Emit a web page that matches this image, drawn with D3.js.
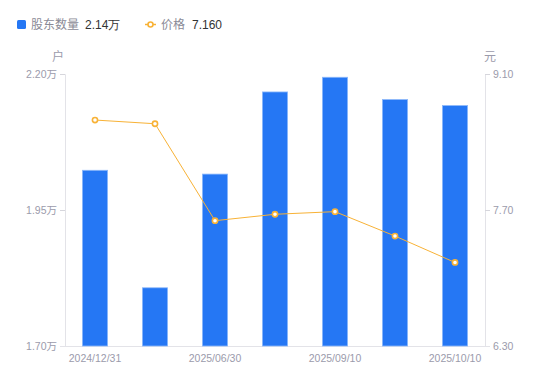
<!DOCTYPE html>
<html><head><meta charset="utf-8">
<script src="https://cdn.jsdelivr.net/npm/d3@7"></script>
<style>
html,body{margin:0;padding:0;background:#fff;}
svg{display:block;font-family:"Noto Sans CJK SC","Noto Sans",sans-serif;}
</style></head>
<body><svg id="c" width="550" height="381"></svg>
<script>
const categories = ["2024/12/31","2025/03/31","2025/06/30","2025/08/20","2025/09/10","2025/09/30","2025/10/10"];
const shownLabels = ["2024/12/31","2025/06/30","2025/09/10","2025/10/10"];
const holders = [2.023, 1.807, 2.016, 2.167, 2.194, 2.153, 2.142];
const prices = [8.626, 8.588, 7.590, 7.656, 7.683, 7.432, 7.160];
const leftTicks = [1.70, 1.95, 2.20];
const rightTicks = [6.30, 7.70, 9.10];
const legendNames = ["股东数量", "价格"];
const legendValues = ["2.14万", "7.160"];

const svg = d3.select("#c");
const L = 65, R = 485, T = 74, B = 346;
const blue = "#2577f4", orange = "#f8b236", grey = "#9b9bab";

const x = d3.scaleBand().domain(categories).range([L, R]).paddingInner(0.58).paddingOuter(0.29);
const yL = d3.scaleLinear().domain([1.70, 2.20]).range([B, T]);
const yR = d3.scaleLinear().domain([6.30, 9.10]).range([B, T]);

// axes
const axL = d3.axisLeft(yL).tickValues(leftTicks).tickSize(5).tickPadding(3).tickFormat(d => d3.format(".2f")(d) + "万");
const gL = svg.append("g").attr("transform", `translate(${L},0)`).call(axL);
const axR = d3.axisRight(yR).tickValues(rightTicks).tickSize(5).tickPadding(3).tickFormat(d3.format(".2f"));
const gR = svg.append("g").attr("transform", `translate(${R},0)`).call(axR);
const axB = d3.axisBottom(x).tickSize(0).tickPadding(9).tickFormat(d => shownLabels.includes(d) ? d : "");
const gB = svg.append("g").attr("transform", `translate(0,${B})`).call(axB);
[gL, gR, gB].forEach(g => {
  g.selectAll(".domain").attr("stroke", "#e3e3e8");
  g.selectAll(".tick line").attr("stroke", "#d6d6dc");
  g.selectAll("text").attr("fill", grey).attr("font-size", 10.5).attr("font-family", "'Liberation Sans', 'Noto Sans CJK SC', sans-serif");
});
gB.select(".domain").attr("d", `M${L-5},0.5H${R+5}`);

// unit labels
svg.append("text").attr("x", 58).attr("y", 61).attr("text-anchor", "middle").attr("fill", grey).attr("font-size", 12).text("户");
svg.append("text").attr("x", 490).attr("y", 61).attr("text-anchor", "middle").attr("fill", grey).attr("font-size", 12).text("元");

// bars
svg.append("g").selectAll("rect").data(holders).join("rect")
  .attr("x", (d, i) => x(categories[i]))
  .attr("y", d => yL(d))
  .attr("width", x.bandwidth())
  .attr("height", d => B - yL(d))
  .attr("fill", blue)
  .attr("stroke", "#8db8fa").attr("stroke-width", 0.8);

// line
const cx = i => x(categories[i]) + x.bandwidth() / 2;
svg.append("path").datum(prices)
  .attr("d", d3.line().x((d, i) => cx(i)).y(d => yR(d)))
  .attr("fill", "none").attr("stroke", orange).attr("stroke-width", 1);
svg.append("g").selectAll("circle").data(prices).join("circle")
  .attr("cx", (d, i) => cx(i)).attr("cy", d => yR(d)).attr("r", 2.6)
  .attr("fill", "#fff").attr("stroke", orange).attr("stroke-width", 1.6);

// legend
const lg = svg.append("g").attr("font-size", 12);
lg.append("rect").attr("x", 17).attr("y", 20).attr("width", 9).attr("height", 9).attr("rx", 1.5).attr("fill", blue);
lg.append("text").attr("x", 31).attr("y", 29).attr("fill", "#8a8a96").text(legendNames[0]);
lg.append("text").attr("x", 85).attr("y", 29).attr("fill", "#333").attr("font-family", "'Liberation Sans', sans-serif").text(legendValues[0]);
lg.append("line").attr("x1", 145).attr("x2", 156).attr("y1", 24.5).attr("y2", 24.5).attr("stroke", orange).attr("stroke-width", 1.5);
lg.append("circle").attr("cx", 150.5).attr("cy", 24.5).attr("r", 2.5).attr("fill", "#fff").attr("stroke", orange).attr("stroke-width", 1.6);
lg.append("text").attr("x", 161).attr("y", 29).attr("fill", "#8a8a96").text(legendNames[1]);
lg.append("text").attr("x", 192).attr("y", 29).attr("fill", "#333").attr("font-family", "'Liberation Sans', sans-serif").text(legendValues[1]);
</script></body></html>
